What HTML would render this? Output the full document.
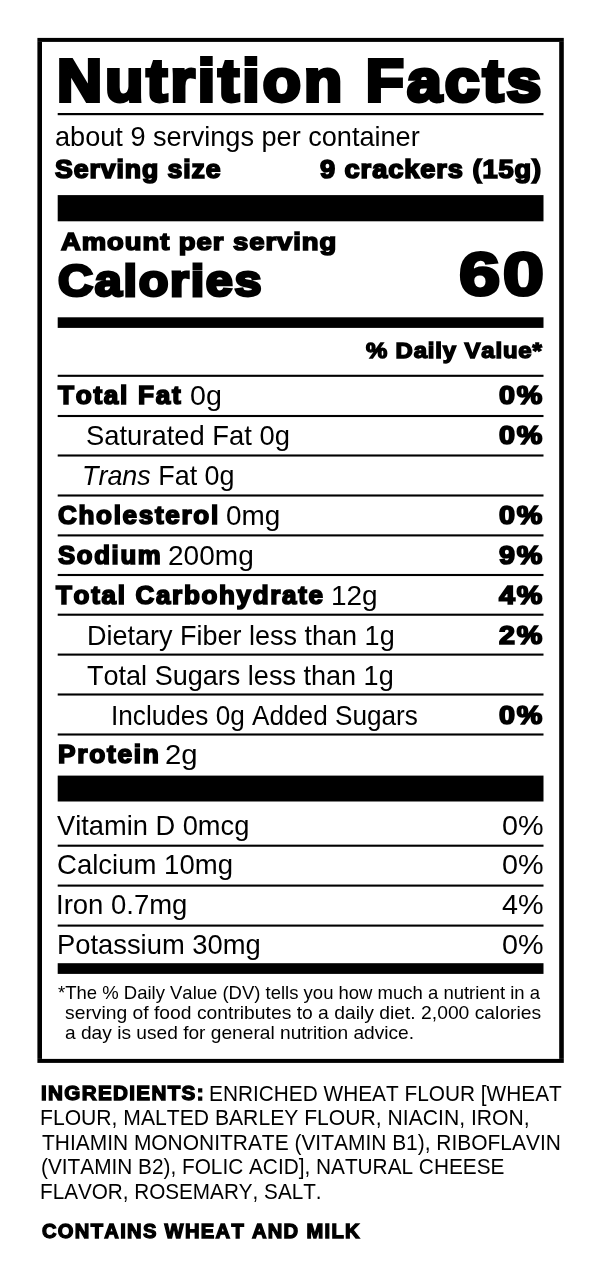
<!DOCTYPE html>
<html><head><meta charset="utf-8"><title>Nutrition Facts</title><style>
*{margin:0;padding:0;box-sizing:border-box}
html,body{width:600px;height:1274px;background:#fff;overflow:hidden}
body{position:relative;font-family:"Liberation Sans",Arial,sans-serif;color:#000;filter:grayscale(1);font-kerning:none}
.bg{position:absolute;left:0;top:0;fill:#000}
.t{position:absolute;white-space:nowrap;transform-origin:0 0}
</style></head>
<body>
<svg class="bg" width="600" height="1274" viewBox="0 0 600 1274"><rect x="37.4" y="37.9" width="526.4" height="4.0"/><rect x="37.4" y="1058.9" width="526.4" height="4.0"/><rect x="37.4" y="41.9" width="4.6" height="1017.0"/><rect x="559.2" y="41.9" width="4.6" height="1017.0"/><rect x="57.7" y="113.0" width="485.8" height="2.2"/><rect x="57.7" y="195.1" width="485.8" height="26.2"/><rect x="57.7" y="317.3" width="485.8" height="10.6"/><rect x="57.7" y="374.75" width="485.8" height="2.1"/><rect x="57.7" y="414.95" width="485.8" height="2.1"/><rect x="57.7" y="454.45" width="485.8" height="2.1"/><rect x="57.7" y="494.45" width="485.8" height="2.1"/><rect x="57.7" y="534.35" width="485.8" height="2.1"/><rect x="57.7" y="573.95" width="485.8" height="2.1"/><rect x="57.7" y="613.65" width="485.8" height="2.1"/><rect x="57.7" y="653.55" width="485.8" height="2.1"/><rect x="57.7" y="693.45" width="485.8" height="2.1"/><rect x="57.7" y="733.45" width="485.8" height="2.1"/><rect x="57.7" y="775.6" width="485.8" height="25.9"/><rect x="57.7" y="844.65" width="485.8" height="2.1"/><rect x="57.7" y="884.55" width="485.8" height="2.1"/><rect x="57.7" y="924.55" width="485.8" height="2.1"/><rect x="57.7" y="963.2" width="485.8" height="10.7"/></svg>
<div class="t" style="left:57.43px;top:51px;font-size:59.76px;line-height:59.76px;font-weight:bold;-webkit-text-stroke:3.88px #000;letter-spacing:3.0px;transform:scaleX(1.0447);">Nutrition Facts</div>
<div class="t" style="left:54.76px;top:123px;font-size:27.5px;line-height:27.5px;transform:scaleX(0.9859);">about 9 servings per container</div>
<div class="t" style="left:55.42px;top:157px;font-size:25.46px;line-height:25.46px;font-weight:bold;-webkit-text-stroke:1.68px #000;letter-spacing:0.89px;transform:scaleX(1.0463);">Serving size</div>
<div class="t" style="left:319.89px;top:157px;font-size:25.46px;line-height:25.46px;font-weight:bold;-webkit-text-stroke:1.68px #000;letter-spacing:0.89px;transform:scaleX(1.0671);">9 crackers (15g)</div>
<div class="t" style="left:60.84px;top:230px;font-size:24.54px;line-height:24.54px;font-weight:bold;-webkit-text-stroke:1.62px #000;letter-spacing:0.86px;transform:scaleX(1.1173);">Amount per serving</div>
<div class="t" style="left:58.34px;top:258px;font-size:45.09px;line-height:45.09px;font-weight:bold;-webkit-text-stroke:2.98px #000;letter-spacing:1.58px;transform:scaleX(1.0775);">Calories</div>
<div class="t" style="left:459.11px;top:243px;font-size:61.84px;line-height:61.84px;font-weight:bold;-webkit-text-stroke:3.09px #000;letter-spacing:2.0px;transform:scaleX(1.2012);">60</div>
<div class="t" style="left:366.48px;top:340px;font-size:21.62px;line-height:21.62px;font-weight:bold;-webkit-text-stroke:1.43px #000;letter-spacing:0.76px;transform:scaleX(1.1069);">% Daily Value*</div>
<div class="t" style="left:58.47px;top:383px;font-size:25.6px;line-height:25.6px;font-weight:bold;-webkit-text-stroke:1.69px #000;letter-spacing:1.66px;transform:scaleX(1.0228);">Total Fat</div>
<div class="t" style="left:190.07px;top:381px;font-size:28.3px;line-height:28.3px;transform:scaleX(1.0108);">0g</div>
<div class="t" style="left:499.37px;top:383px;font-size:25.6px;line-height:25.6px;font-weight:bold;-webkit-text-stroke:1.69px #000;letter-spacing:1.66px;transform:scaleX(1.1224);">0%</div>
<div class="t" style="left:86.00px;top:421px;font-size:28.3px;line-height:28.3px;transform:scaleX(0.9672);">Saturated Fat 0g</div>
<div class="t" style="left:499.37px;top:423px;font-size:25.6px;line-height:25.6px;font-weight:bold;-webkit-text-stroke:1.69px #000;letter-spacing:1.66px;transform:scaleX(1.1224);">0%</div>
<div class="t" style="left:82.45px;top:461px;font-size:28.3px;line-height:28.3px;transform:scaleX(0.9508);"><i>Trans</i> Fat 0g</div>
<div class="t" style="left:57.92px;top:503px;font-size:25.6px;line-height:25.6px;font-weight:bold;-webkit-text-stroke:1.69px #000;letter-spacing:1.66px;transform:scaleX(1.0173);">Cholesterol</div>
<div class="t" style="left:226.35px;top:501px;font-size:28.3px;line-height:28.3px;transform:scaleX(0.9864);">0mg</div>
<div class="t" style="left:499.37px;top:503px;font-size:25.6px;line-height:25.6px;font-weight:bold;-webkit-text-stroke:1.69px #000;letter-spacing:1.66px;transform:scaleX(1.1224);">0%</div>
<div class="t" style="left:57.91px;top:543px;font-size:25.6px;line-height:25.6px;font-weight:bold;-webkit-text-stroke:1.69px #000;letter-spacing:1.66px;transform:scaleX(1.0057);">Sodium</div>
<div class="t" style="left:167.88px;top:541px;font-size:28.3px;line-height:28.3px;transform:scaleX(0.9907);">200mg</div>
<div class="t" style="left:499.37px;top:543px;font-size:25.6px;line-height:25.6px;font-weight:bold;-webkit-text-stroke:1.69px #000;letter-spacing:1.66px;transform:scaleX(1.1224);">9%</div>
<div class="t" style="left:55.57px;top:583px;font-size:25.6px;line-height:25.6px;font-weight:bold;-webkit-text-stroke:1.69px #000;letter-spacing:1.66px;transform:scaleX(1.0160);">Total Carbohydrate</div>
<div class="t" style="left:331.15px;top:581px;font-size:28.3px;line-height:28.3px;transform:scaleX(0.9886);">12g</div>
<div class="t" style="left:499.37px;top:583px;font-size:25.6px;line-height:25.6px;font-weight:bold;-webkit-text-stroke:1.69px #000;letter-spacing:1.66px;transform:scaleX(1.1224);">4%</div>
<div class="t" style="left:86.76px;top:621px;font-size:28.3px;line-height:28.3px;transform:scaleX(0.9542);">Dietary Fiber less than 1g</div>
<div class="t" style="left:499.37px;top:623px;font-size:25.6px;line-height:25.6px;font-weight:bold;-webkit-text-stroke:1.69px #000;letter-spacing:1.66px;transform:scaleX(1.1224);">2%</div>
<div class="t" style="left:86.69px;top:661px;font-size:28.3px;line-height:28.3px;transform:scaleX(0.9558);">Total Sugars less than 1g</div>
<div class="t" style="left:110.88px;top:701px;font-size:28.3px;line-height:28.3px;transform:scaleX(0.9244);">Includes 0g Added Sugars</div>
<div class="t" style="left:499.37px;top:703px;font-size:25.6px;line-height:25.6px;font-weight:bold;-webkit-text-stroke:1.69px #000;letter-spacing:1.66px;transform:scaleX(1.1224);">0%</div>
<div class="t" style="left:57.91px;top:742px;font-size:25.6px;line-height:25.6px;font-weight:bold;-webkit-text-stroke:1.69px #000;letter-spacing:1.66px;transform:scaleX(1.0278);">Protein</div>
<div class="t" style="left:165.31px;top:740px;font-size:28.3px;line-height:28.3px;transform:scaleX(1.0365);">2g</div>
<div class="t" style="left:57.46px;top:811px;font-size:28.3px;line-height:28.3px;transform:scaleX(0.9630);">Vitamin D 0mcg</div>
<div class="t" style="left:501.62px;top:811px;font-size:28.3px;line-height:28.3px;transform:scaleX(1.0164);">0%</div>
<div class="t" style="left:56.76px;top:850px;font-size:28.3px;line-height:28.3px;transform:scaleX(0.9731);">Calcium 10mg</div>
<div class="t" style="left:501.62px;top:850px;font-size:28.3px;line-height:28.3px;transform:scaleX(1.0164);">0%</div>
<div class="t" style="left:56.46px;top:890px;font-size:28.3px;line-height:28.3px;transform:scaleX(0.9713);">Iron 0.7mg</div>
<div class="t" style="left:501.62px;top:890px;font-size:28.3px;line-height:28.3px;transform:scaleX(1.0164);">4%</div>
<div class="t" style="left:56.93px;top:930px;font-size:28.3px;line-height:28.3px;transform:scaleX(0.9666);">Potassium 30mg</div>
<div class="t" style="left:501.62px;top:930px;font-size:28.3px;line-height:28.3px;transform:scaleX(1.0164);">0%</div>
<div class="t" style="left:57.52px;top:983px;font-size:19.04px;line-height:19.04px;transform:scaleX(0.9716);">*The % Daily Value (DV) tells you how much a nutrient in a</div>
<div class="t" style="left:65.38px;top:1003px;font-size:19.04px;line-height:19.04px;transform:scaleX(1.0138);">serving of food contributes to a daily diet. 2,000 calories</div>
<div class="t" style="left:65.33px;top:1023px;font-size:19.04px;line-height:19.04px;transform:scaleX(1.0060);">a day is used for general nutrition advice.</div>
<div class="t" style="left:40.80px;top:1084px;font-size:19.89px;line-height:19.89px;font-weight:bold;-webkit-text-stroke:1.31px #000;letter-spacing:1.29px;transform:scaleX(1.0376);">INGREDIENTS:</div>
<div class="t" style="left:208.69px;top:1084px;font-size:21.51px;line-height:21.51px;transform:scaleX(0.9682);">ENRICHED WHEAT FLOUR [WHEAT</div>
<div class="t" style="left:40.27px;top:1108px;font-size:21.51px;line-height:21.51px;transform:scaleX(0.9828);">FLOUR, MALTED BARLEY FLOUR, NIACIN, IRON,</div>
<div class="t" style="left:41.52px;top:1133px;font-size:21.51px;line-height:21.51px;transform:scaleX(0.9739);">THIAMIN MONONITRATE (VITAMIN B1), RIBOFLAVIN</div>
<div class="t" style="left:40.68px;top:1157px;font-size:21.51px;line-height:21.51px;transform:scaleX(0.9673);">(VITAMIN B2), FOLIC ACID], NATURAL CHEESE</div>
<div class="t" style="left:40.30px;top:1182px;font-size:21.51px;line-height:21.51px;transform:scaleX(0.9620);">FLAVOR, ROSEMARY, SALT.</div>
<div class="t" style="left:41.51px;top:1222px;font-size:19.89px;line-height:19.89px;font-weight:bold;-webkit-text-stroke:1.31px #000;letter-spacing:1.29px;transform:scaleX(1.0138);">CONTAINS WHEAT AND MILK</div>
</body></html>
